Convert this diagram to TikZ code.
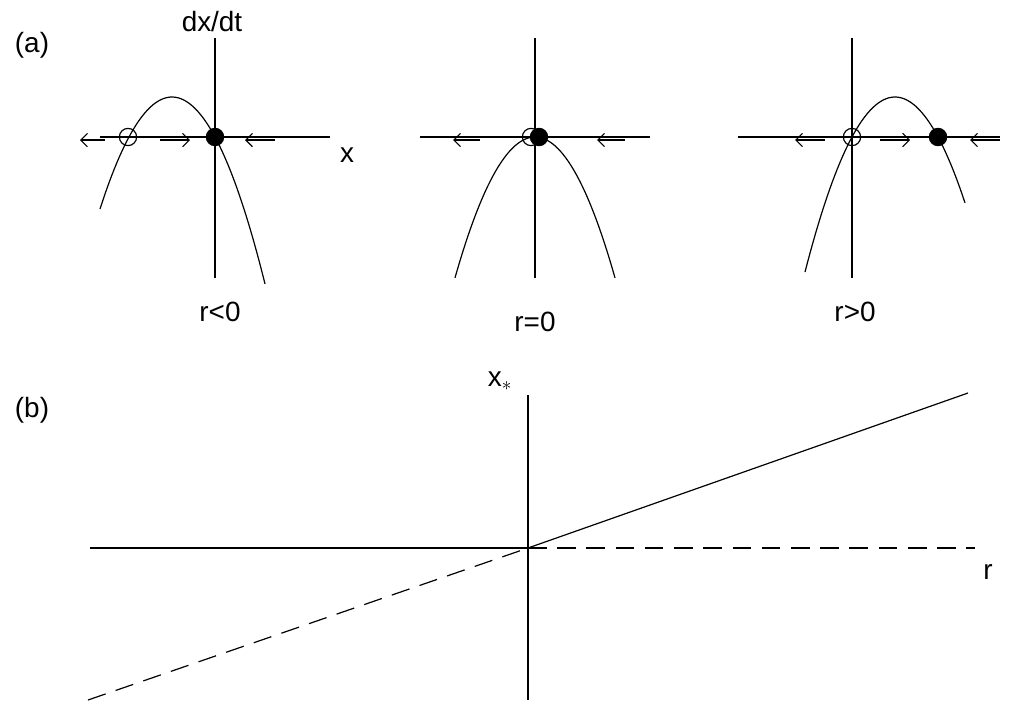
\documentclass[tikz,border=0pt]{standalone}
\usepackage{fontspec}
\setmainfont{Liberation Sans}
\usetikzlibrary{arrows.meta}

\tikzset{
  lbl/.style={font=\fontsize{21}{25}\selectfont},
  flow/.style={-{Straight Barb[length=5pt,width=10pt]},line width=0.8pt},
  unst/.style={circle,draw,inner sep=0pt,minimum size=13pt},
  stab/.style={circle,draw,fill=black,inner sep=0pt,minimum size=13pt},
}

\begin{document}
\begin{tikzpicture}[x=0.02646cm,y=-0.02646cm,line width=0.9pt]
\useasboundingbox (0,0) rectangle (1014,724);

% (a) r<0
\draw (215,38)--(215,278);
\draw (100,137)--(330,137);
\draw[domain=100:265,samples=60] plot (\x,{97+0.0216*(\x-172)^2});
\draw[flow] (105,140)--(80,140);
\draw[flow] (160,140)--(190,140);
\draw[flow] (275,140)--(245,140);
\node[unst] (u1) at (128,137) {};
\node[stab] (s1) at (215,137) {};
\node[lbl] (dxdt) at (212,22) {dx/dt};
\node[lbl] (xa) at (347,155) {x};
\node[lbl] (ra) at (220,312) {r<0};

% (a) r=0
\draw (535,38)--(535,278);
\draw (420,137)--(650,137);
\draw[domain=455:615,samples=60] plot (\x,{137+0.022*(\x-535)^2});
\draw[flow] (480,140)--(453,140);
\draw[flow] (625,140)--(597,140);
\node[unst] (u2) at (531,137) {};
\node[stab] (s2) at (539,137) {};
\node[lbl] (rb) at (535,322) {r=0};

% (a) r>0
\draw (852,38)--(852,278);
\draw (738,137)--(1000,137);
\draw[domain=805:965,samples=60] plot (\x,{97+0.0216*(\x-895)^2});
\draw[flow] (825,140)--(795,140);
\draw[flow] (880,140)--(910,140);
\draw[flow] (1000,140)--(970,140);
\node[unst] (u3) at (852,137) {};
\node[stab] (s3) at (938,137) {};
\node[lbl] (rc) at (855,312) {r>0};

\node[lbl] (pa) at (32,45) {(a)};

% (b)
\node[lbl] (pb) at (32,410) {(b)};
\coordinate (o) at (528,548);
\draw (528,395)--(528,700);
\draw (90,548)--(o);
\draw[dash pattern=on 14pt off 8pt] (o)--(975,548);
\draw (o)--(968,393);
\draw[dash pattern=on 14pt off 8pt] (88,700)--(o);
\node[lbl] (xs) at (500,381) {x$_*$};
\node[lbl] (rr) at (988,572) {r};
\end{tikzpicture}
\end{document}
